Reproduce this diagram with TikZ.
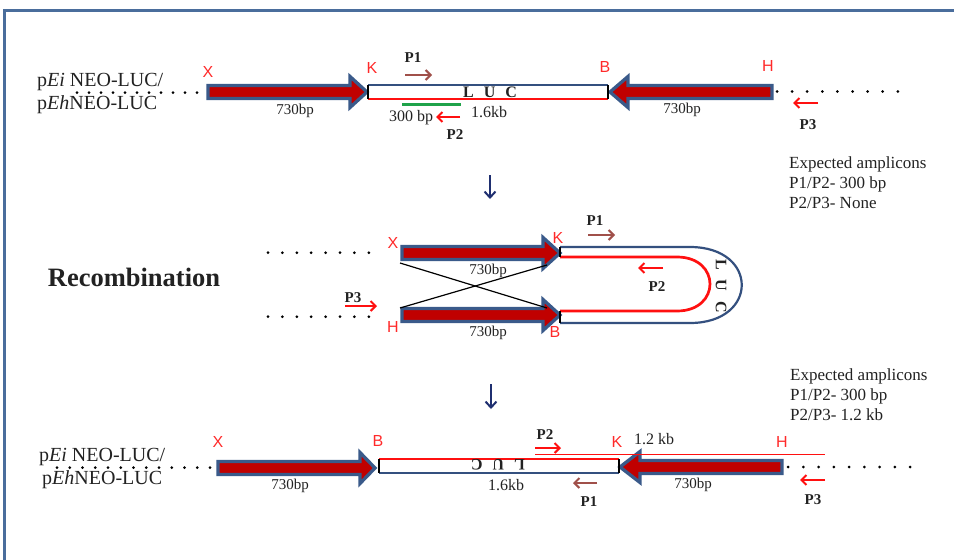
\documentclass[tikz,border=0pt]{standalone}
\usepackage{fontspec}
\setmainfont{Liberation Serif}
\newfontfamily\lblfont{Liberation Sans}
\usetikzlibrary{arrows.meta}
\definecolor{framecol}{HTML}{4A6D9C}
\definecolor{arrowblue}{HTML}{3A5A8A}
\definecolor{arrowred}{HTML}{C00000}
\definecolor{lblred}{HTML}{FF2A2A}
\definecolor{p1col}{HTML}{A0504A}
\definecolor{pred}{HTML}{FF1010}
\definecolor{greenl}{HTML}{1FA34A}
\definecolor{navy}{HTML}{1F2F70}
\definecolor{strandblue}{HTML}{34507F}
\definecolor{txt}{HTML}{222222}
\newcommand\blockarr[4]{%
  \draw[blockarrow] (#1,#4-6.5) -- (#2,#4-6.5) -- (#2,#4-15.5) -- (#3,#4) -- (#2,#4+15.5) -- (#2,#4+6.5) -- (#1,#4+6.5) -- cycle;}
\tikzset{
  blockarrow/.style={draw=arrowblue, fill=arrowred, line width=3.3pt, line join=miter},
  site/.style={text=lblred, font=\lblfont\fontsize{16}{16}\selectfont, inner sep=0pt},
  bplbl/.style={text=txt, font=\fontsize{15}{15}\selectfont, inner sep=0pt},
  sizelbl/.style={text=txt, font=\fontsize{16}{16}\selectfont, inner sep=0pt},
  primerlbl/.style={text=txt, font=\bfseries\fontsize{15}{15}\selectfont, inner sep=0pt},
  primer/.style={line width=2pt, -{Straight Barb[length=5pt,width=10pt]}},
  dotsline/.style={line width=3pt, line cap=round, dash pattern=on 0pt off #1},
  dotsline/.default=12pt,
  plasmid/.style={text=txt, font=\fontsize{20}{23}\selectfont, align=left, inner sep=0pt, anchor=west},
  expected/.style={text=txt, font=\fontsize{17}{20}\selectfont, align=left, inner sep=0pt, anchor=west},
  luc/.style={text=txt, font=\bfseries\fontsize{16}{16}\selectfont, inner sep=0pt},
  bluestrand/.style={strandblue, line width=2.5pt},
  redstrand/.style={pred, line width=2.7pt},
  endtick/.style={black, line width=2pt},
  downarr/.style={navy, line width=2pt, -{Straight Barb[length=6pt,width=11pt]}}
}
\begin{document}
\begin{tikzpicture}[x=1pt,y=-1pt]
\useasboundingbox (0,0) rectangle (954,560);
\fill[white] (0,0) rectangle (954,560);
% frame
\draw[framecol, line width=3pt] (4.5,560) -- (4.5,10) -- (954,10);

%%%%%%%%%%%%%%%% ROW 1
\coordinate (d1a) at (77,92.5);
\coordinate (d1b) at (197,92.5);
\draw[dotsline] (d1a) -- (d1b);
\node[plasmid] (pl1) at (37,93.5) {p\textit{Ei} NEO-LUC/\\p\textit{Eh}NEO-LUC};
\blockarr{208}{350}{367}{92}
\blockarr{772}{628}{610}{92}
\coordinate (bx1a) at (368,85); \coordinate (bx1b) at (608,85);
\coordinate (bx1c) at (368,99); \coordinate (bx1d) at (608,99);
\draw[bluestrand] (bx1a) -- (bx1b);
\draw[redstrand] (bx1c) -- (bx1d);
\draw[endtick] (bx1a) -- (bx1c);
\draw[endtick] (bx1b) -- (bx1d);
\node[luc] (luc1) at (490,92) {L\hspace{10pt}U\hspace{10pt}C};
\coordinate (g1a) at (402,104); \coordinate (g1b) at (461,104);
\draw[greenl, line width=3pt] (g1a) -- (g1b);
\node[site] (x1) at (208,72) {X};
\node[site] (k1) at (372,68) {K};
\node[site] (b1) at (605,67) {B};
\node[site] (h1) at (768,66) {H};
\node[bplbl] (bp1a) at (295,111) {730bp};
\node[bplbl] (bp1b) at (682,110) {730bp};
\node[sizelbl] (s300) at (411,118) {300 bp};
\node[sizelbl] (s16a) at (489,112) {1.6kb};
\node[primerlbl] (p1t1) at (413,58) {P1};
\coordinate (p1a1) at (405,75); \coordinate (p1b1) at (432,75);
\draw[primer, p1col] (p1a1) -- (p1b1);
\coordinate (p2a1) at (460,117); \coordinate (p2b1) at (436,117);
\draw[primer, pred] (p2a1) -- (p2b1);
\node[primerlbl] (p2t1) at (455,135) {P2};
\coordinate (d1c) at (777,91.5); \coordinate (d1d) at (898,91.5);
\draw[dotsline=15.1pt] (d1c) -- (d1d);
\coordinate (p3a1) at (818,103); \coordinate (p3b1) at (793,103);
\draw[primer, pred] (p3a1) -- (p3b1);
\node[primerlbl] (p3t1) at (808,125) {P3};
\node[expected] (exp1) at (789,183) {Expected amplicons\\P1/P2- 300 bp\\P2/P3- None};
\coordinate (da1) at (490,175); \coordinate (db1) at (490,199);
\draw[downarr] (da1) -- (db1);

%%%%%%%%%%%%%%%% ROW 2
\node[text=txt, font=\bfseries\fontsize{26.5}{26.5}\selectfont, inner sep=0pt] (recomb) at (134,277) {Recombination};
\coordinate (d2a) at (268,252.7); \coordinate (d2b) at (383,252.7);
\draw[dotsline=14.4pt] (d2a) -- (d2b);
\coordinate (d2c) at (268,316.7); \coordinate (d2d) at (383,316.7);
\draw[dotsline=14.4pt] (d2c) -- (d2d);
\blockarr{402}{543}{560}{253}
\blockarr{402}{543}{560}{315}
\coordinate (cr1) at (400,263); \coordinate (cr2) at (547,308);
\coordinate (cr3) at (400,308); \coordinate (cr4) at (547,265);
\draw[black, line width=1.2pt] (cr1) -- (cr2);
\draw[black, line width=1.2pt] (cr3) -- (cr4);
\coordinate (bs1) at (560,247); \coordinate (bs2) at (560,323);
\coordinate (rs1) at (560,257); \coordinate (rs2) at (560,311);
\draw[bluestrand, line width=2.2pt] (bs1) -- (690,247) .. controls (759,247) and (759,323) .. (690,323) -- (bs2);
\draw[redstrand] (rs1) -- (677,257) .. controls (721,257) and (721,311) .. (677,311) -- (rs2);
\draw[endtick] (bs1) -- (rs1);
\draw[endtick] (rs2) -- (bs2);
\node[luc, rotate=-90] (luc2) at (721,286) {L\hspace{10pt}U\hspace{10pt}C};
\node[site] (x2) at (393,243) {X};
\node[site] (k2) at (558,238) {K};
\node[site] (h2) at (393,327) {H};
\node[site] (b2) at (555,332) {B};
\node[bplbl] (bp2a) at (488,271) {730bp};
\node[bplbl] (bp2b) at (488,333) {730bp};
\node[primerlbl] (p1t2) at (595,221) {P1};
\coordinate (p1a2) at (588,235); \coordinate (p1b2) at (615,235);
\draw[primer, p1col] (p1a2) -- (p1b2);
\coordinate (p2a2) at (663,268); \coordinate (p2b2) at (638,268);
\draw[primer, pred] (p2a2) -- (p2b2);
\node[primerlbl] (p2t2) at (657,287) {P2};
\node[primerlbl] (p3t2) at (353,298) {P3};
\coordinate (p3a2) at (345,306); \coordinate (p3b2) at (377,306);
\draw[primer, pred] (p3a2) -- (p3b2);
\node[expected] (exp2) at (790,395) {Expected amplicons\\P1/P2- 300 bp\\P2/P3- 1.2 kb};
\coordinate (da2) at (491,384); \coordinate (db2) at (491,409);
\draw[downarr] (da2) -- (db2);

%%%%%%%%%%%%%%%% ROW 3
\coordinate (d3a) at (57,467.5); \coordinate (d3b) at (210,467.5);
\draw[dotsline=12.75pt] (d3a) -- (d3b);
\node[plasmid] (pl3) at (39,468.5) {p\textit{Ei} NEO-LUC/\\\hspace{3pt}p\textit{Eh}NEO-LUC};
\blockarr{218}{360}{375}{468}
\blockarr{782}{640}{620}{467}
\coordinate (bx3a) at (379,459); \coordinate (bx3b) at (619,459);
\coordinate (bx3c) at (379,473); \coordinate (bx3d) at (619,473);
\draw[redstrand] (bx3a) -- (bx3b);
\draw[bluestrand] (bx3c) -- (bx3d);
\draw[endtick] (bx3a) -- (bx3c);
\draw[endtick] (bx3b) -- (bx3d);
\node[luc, rotate=180] (luc3) at (498,465) {L\hspace{10pt}U\hspace{10pt}C};
\coordinate (lr1) at (535,454.5); \coordinate (lr2) at (825,454.5);
\draw[pred, line width=1.8pt] (lr1) -- (lr2);
\coordinate (p2a3) at (535,448); \coordinate (p2b3) at (561,448);
\draw[primer, pred] (p2a3) -- (p2b3);
\node[primerlbl] (p2t3) at (545,435) {P2};
\node[site] (x3) at (218,442) {X};
\node[site] (b3) at (378,441) {B};
\node[site] (k3) at (617,442) {K};
\node[site] (h3) at (782,442) {H};
\node[sizelbl] (s12) at (654,439) {1.2 kb};
\node[bplbl] (bp3a) at (290,486) {730bp};
\node[bplbl] (bp3b) at (693,485) {730bp};
\node[sizelbl] (s16b) at (506,485) {1.6kb};
\coordinate (p1a3) at (597,483); \coordinate (p1b3) at (573,483);
\draw[primer, p1col] (p1a3) -- (p1b3);
\node[primerlbl] (p1t3) at (589,502) {P1};
\coordinate (d3c) at (788,467); \coordinate (d3d) at (910,467);
\draw[dotsline=15.25pt] (d3c) -- (d3d);
\coordinate (p3a3) at (825,480); \coordinate (p3b3) at (800,480);
\draw[primer, pred] (p3a3) -- (p3b3);
\node[primerlbl] (p3t3) at (813,500) {P3};
\end{tikzpicture}
\end{document}
